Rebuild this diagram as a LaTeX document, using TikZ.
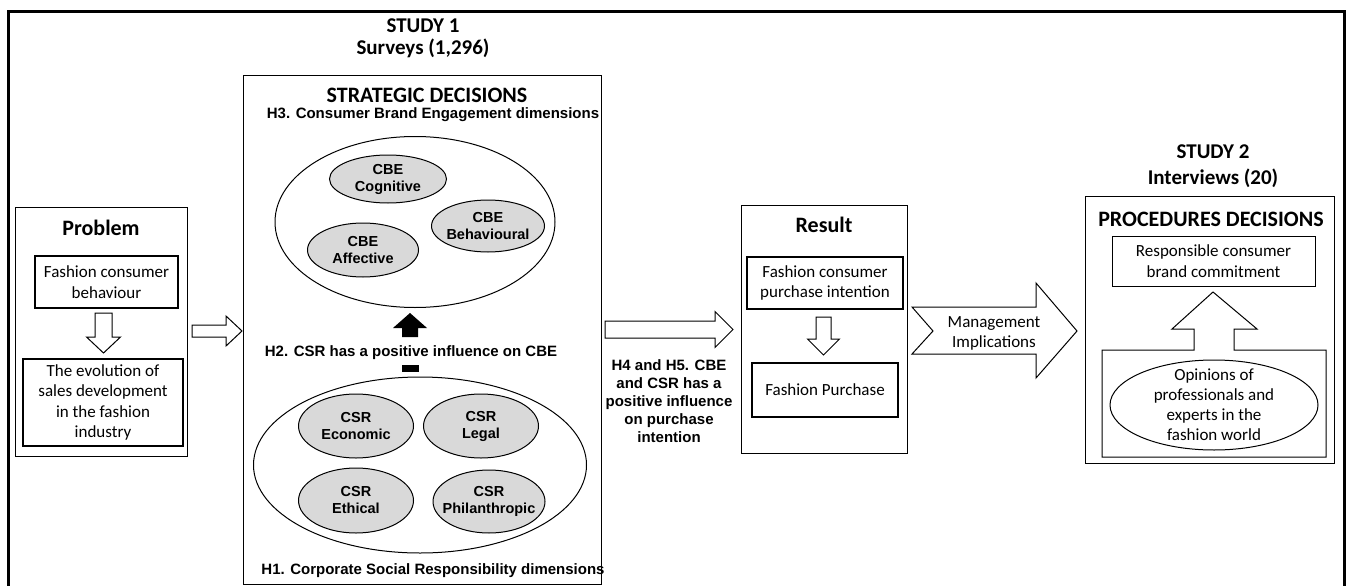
\documentclass[tikz,border=0pt]{standalone}
\usepackage{fontspec}
\setmainfont{Carlito}
\newfontfamily\arialfam{Liberation Sans}
\usetikzlibrary{shapes.geometric}
\newcommand\myfs[2]{\fontsize{#1}{#2}\selectfont}
\definecolor{cellgray}{RGB}{217,217,217}
\tikzset{
 panel/.style={draw, line width=1pt, inner sep=0pt},
 ibox/.style={draw, line width=1.8pt, inner sep=2pt, align=center, font=\myfs{17}{20.5}},
 tbox/.style={draw, line width=1pt, inner sep=2pt, align=center, font=\myfs{17}{20.5}},
 head/.style={font=\bfseries\myfs{22}{24}, align=center, inner sep=0pt},
 hyp/.style={font=\arialfam\bfseries\myfs{15}{18}, align=center, inner sep=0pt},
 bigell/.style={ellipse, draw, line width=1pt, inner sep=0pt},
 cell/.style={ellipse, draw, line width=1pt, fill=cellgray, inner sep=0pt},
 celltext/.style={font=\arialfam\bfseries\myfs{14.5}{17}, align=center, inner sep=0pt},
 bodytext/.style={font=\myfs{17}{20}, align=center, inner sep=0pt},
 barrow/.style={draw, line width=1pt, fill=white, line join=miter},
}
\newcommand\bdown[6]{%
 \draw[barrow] ({#1-#5},#2) -- ({#1+#5},#2) -- ({#1+#5},#3) -- ({#1+#6},#3) -- (#1,#4) -- ({#1-#6},#3) -- ({#1-#5},#3) -- cycle;}
\newcommand\bright[6]{%
 \draw[barrow] (#2,{#1-#5}) -- (#3,{#1-#5}) -- (#3,{#1-#6}) -- (#4,#1) -- (#3,{#1+#6}) -- (#3,{#1+#5}) -- (#2,{#1+#5}) -- cycle;}
\begin{document}
\begin{tikzpicture}[x=1pt,y=-1pt]
\useasboundingbox (0,0) rectangle (1346,586);
% outer frame
\draw[line width=3pt] (8,590) -- (8,12) -- (1344,12) -- (1344,590);

% ---------- Problem ----------
\node[panel, minimum width=172, minimum height=249] (prob) at (101,331.5) {};
\node[head] (probt) at (101,228) {Problem};
\node[ibox, minimum width=143, minimum height=52] (fcb) at (106.5,282) {Fashion consumer\\behaviour};
\node[ibox, minimum width=160, minimum height=87] (evo) at (103,402.5) {The evolution of\\sales development\\in the fashion\\industry};
\bdown{103.5}{313}{337}{353}{8.5}{17}
\bright{331}{192}{226}{242}{6}{15}

% ---------- Study 1 ----------
\node[head, font=\bfseries\myfs{21}{22}] (s1) at (423,38) {STUDY 1\\Surveys (1,296)};
\node[panel, minimum width=358, minimum height=509] (strat) at (422,329.5) {};
\node[head] (stratt) at (427,95.5) {STRATEGIC DECISIONS};
\node[hyp] (h3) at (433,115) {H3. Consumer Brand Engagement dimensions};
\node[bigell, minimum width=280, minimum height=171] (cbe) at (415,222) {};
\node[cell, minimum width=117, minimum height=48, label={[celltext]center:CBE\\Cognitive}] (cog) at (388,179) {};
\node[cell, minimum width=113, minimum height=52, label={[celltext]center:CBE\\Behavioural}] (beh) at (488,226) {};
\node[cell, minimum width=111, minimum height=54, label={[celltext]center:CBE\\Affective}] (aff) at (363,250) {};
\fill (402,337) -- (418,337) -- (418,328) -- (427,328) -- (410,313) -- (393,328) -- (402,328) -- cycle;
\node[hyp] (h2) at (411,353) {H2. CSR has a positive influence on CBE};
\node[fill=black, minimum width=17, minimum height=7, inner sep=0pt] (bar) at (410.5,368.5) {};
\node[bigell, minimum width=333, minimum height=176] (csr) at (420,465) {};
\node[cell, minimum width=115, minimum height=64, label={[celltext]center:CSR\\Economic}] (eco) at (356,426) {};
\node[cell, minimum width=115, minimum height=64, label={[celltext]center:CSR\\Legal}] (leg) at (481,426) {};
\node[cell, minimum width=115, minimum height=65, label={[celltext]center:CSR\\Ethical}] (eth) at (356,500.5) {};
\node[cell, minimum width=112, minimum height=63, label={[celltext]center:CSR\\Philanthropic}] (phi) at (489,501.5) {};
\node[hyp] (h1) at (433,571) {H1. Corporate Social Responsibility dimensions};

% ---------- arrow to Result ----------
\bright{329.5}{605}{715}{733}{8.5}{18}
\node[hyp] (h45) at (669,401) {H4 and H5. CBE\\and CSR has a\\positive influence\\on purchase\\intention};

% ---------- Result ----------
\node[panel, minimum width=166, minimum height=248] (res) at (824,329) {};
\node[head] (rest) at (824,225) {Result};
\node[ibox, minimum width=156, minimum height=52] (fcpi) at (825,283) {Fashion consumer\\purchase intention};
\bdown{823.5}{317}{339}{355}{7.5}{16}
\node[ibox, minimum width=146, minimum height=54] (fp) at (825,390) {Fashion Purchase};

% ---------- Management arrow ----------
\draw[barrow] (912,307) -- (1036,307) -- (1036,283) -- (1077,331) -- (1036,378) -- (1036,354) -- (912,354) -- (933,331) -- cycle;
\node[bodytext] (mgmt) at (994,333) {Management\\Implications};

% ---------- Study 2 ----------
\node[head, font=\bfseries\myfs{21}{26}] (s2) at (1213,166) {STUDY 2\\Interviews (20)};
\node[panel, minimum width=249, minimum height=267] (proc) at (1209.5,329.5) {};
\node[head] (proct) at (1211,219) {PROCEDURES DECISIONS};
\node[tbox, minimum width=203, minimum height=50] (resp) at (1213.5,261) {Responsible consumer\\brand commitment};
\draw[line width=1pt, line join=miter] (1102,350) -- (1194,350) -- (1194,329) -- (1172,329) -- (1213,292) -- (1257,329) -- (1234,329) -- (1234,350) -- (1326,350) -- (1326,457) -- (1102,457) -- cycle;
\node[bigell, minimum width=208, minimum height=90, label={[bodytext]center:Opinions of\\professionals and\\experts in the\\fashion world}] (opin) at (1214,405) {};
\end{tikzpicture}
\end{document}
